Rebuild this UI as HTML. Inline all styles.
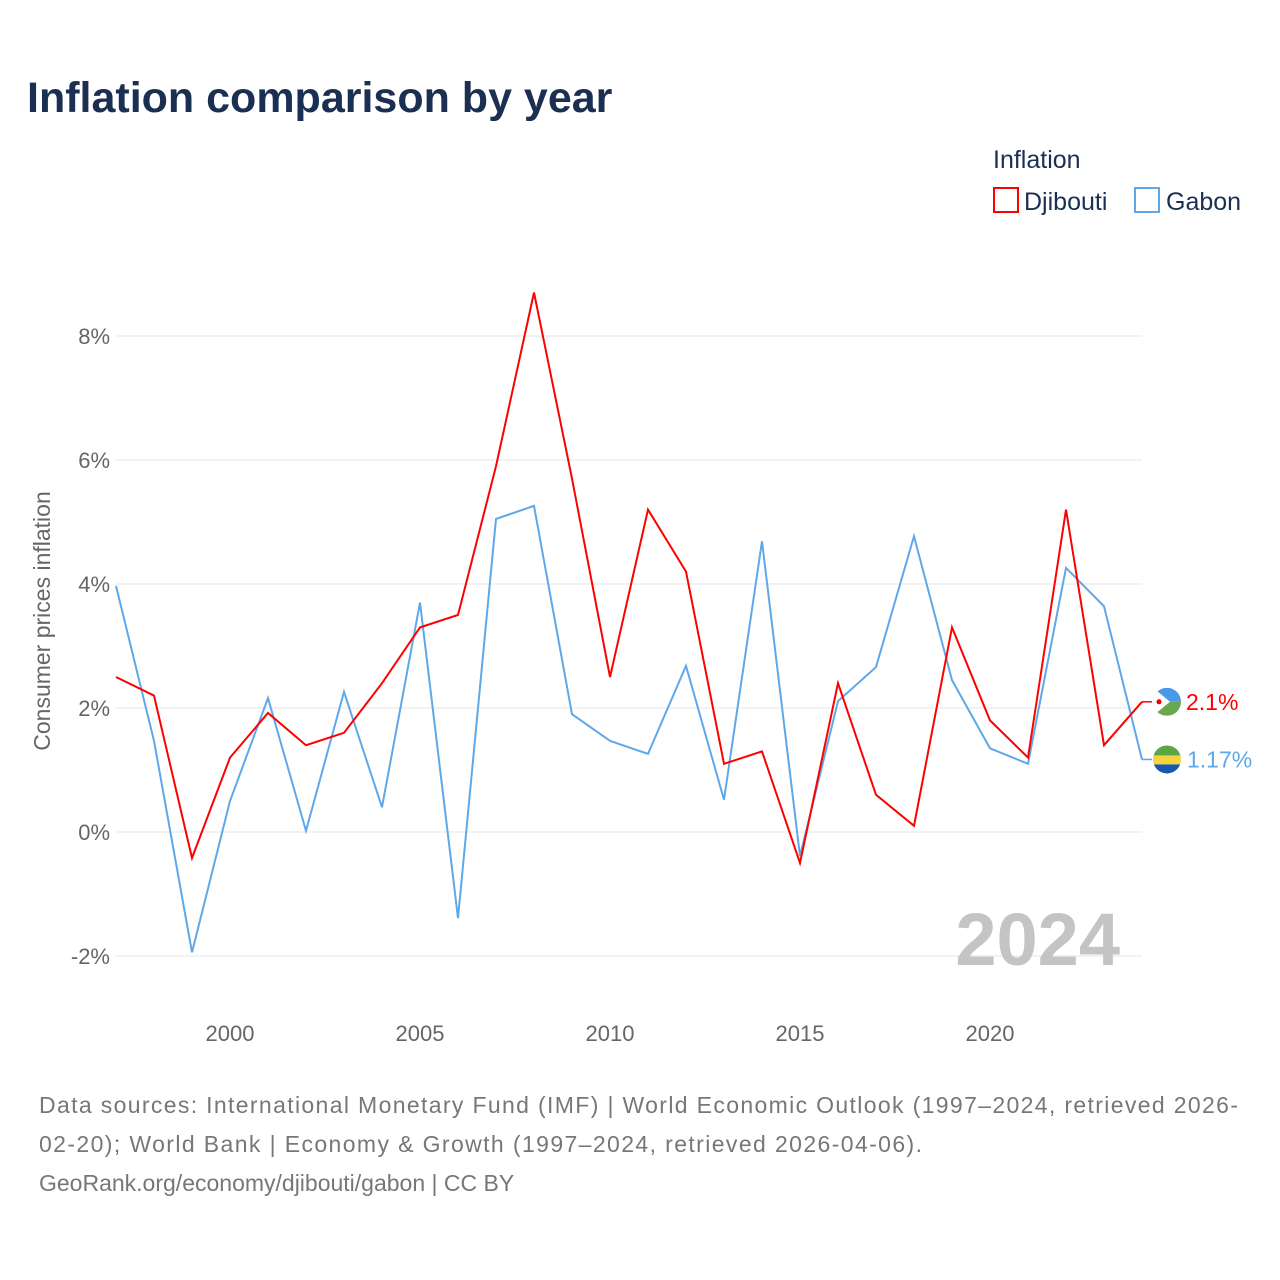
<!DOCTYPE html>
<html><head><meta charset="utf-8"><style>
body{margin:0;background:#fff;font-family:"Liberation Sans",sans-serif;}
#wrap{position:relative;width:1280px;height:1280px;overflow:hidden;}
</style></head><body>
<div id="wrap">
<svg id="chart" width="1280" height="1280"></svg>
</div>
<script>
const years=[1997,1998,1999,2000,2001,2002,2003,2004,2005,2006,2007,2008,2009,2010,2011,2012,2013,2014,2015,2016,2017,2018,2019,2020,2021,2022,2023,2024];
const djibouti=[2.5,2.2,-0.42,1.2,1.92,1.4,1.6,2.4,3.3,3.5,5.9,8.7,5.7,2.5,5.2,4.2,1.1,1.3,-0.5,2.4,0.6,0.1,3.3,1.8,1.2,5.2,1.4,2.1];
const gabon=[3.97,1.47,-1.94,0.5,2.16,0.02,2.26,0.4,3.7,-1.39,5.05,5.26,1.9,1.47,1.26,2.68,0.52,4.69,-0.39,2.11,2.66,4.77,2.45,1.35,1.1,4.26,3.64,1.17];
const yTicks=[-2,0,2,4,6,8];
const xTicks=[2000,2005,2010,2015,2020];
const NS="http://www.w3.org/2000/svg";
const svg=document.getElementById('chart');
function xs(y){return 116+(y-1997)*38;}
function ys(v){return 832-v*62;}
function mk(tag,attrs,parent){const e=document.createElementNS(NS,tag);for(const k in attrs)e.setAttribute(k,attrs[k]);(parent||svg).appendChild(e);return e;}
function txt(s,attrs){const e=mk('text',attrs);e.textContent=s;return e;}
let t;
t=txt('Inflation comparison by year',{x:27,y:112,'font-size':43,'font-weight':'bold',fill:'#1b2f52'});

t=txt('Inflation',{x:993,y:168,'font-size':25,fill:'#1b2f52'});

let r=mk('rect',{x:994,y:188,width:24,height:24,fill:'none',stroke:'#ff0000','stroke-width':2});

t=txt('Djibouti',{x:1024,y:210,'font-size':25,fill:'#1b2f52'});

r=mk('rect',{x:1135,y:188,width:24,height:24,fill:'none',stroke:'#5ea8ea','stroke-width':2});

t=txt('Gabon',{x:1166,y:210,'font-size':25,fill:'#1b2f52'});

yTicks.forEach(v=>{
 const l=mk('line',{x1:116,x2:1142,y1:ys(v),y2:ys(v),stroke:'#e6e6e6','stroke-width':1});
 
 const tt=txt(v+'%',{x:110,y:ys(v)+8,'font-size':22,fill:'#666','text-anchor':'end'});
 
});
xTicks.forEach(v=>{
 const tt=txt(String(v),{x:xs(v),y:1041,'font-size':22,fill:'#666','text-anchor':'middle'});
 
});
t=txt('Consumer prices inflation',{x:0,y:0,'font-size':23,fill:'#666','text-anchor':'middle',transform:'translate(50,621) rotate(-90)'});

t=txt('2024',{x:1120,y:965,'font-size':74,'font-weight':'bold',fill:'#c4c4c4','text-anchor':'end'});

function line(vals,color,name){
 const p=mk('polyline',{points:vals.map((v,i)=>xs(years[i])+','+ys(v)).join(' '),fill:'none',stroke:color,'stroke-width':2,'stroke-linejoin':'miter'});
 
}
line(gabon,'#5ea8ea','series-line-gabon');
line(djibouti,'#ff0000','series-line-djibouti');
const lx=xs(2024);
const dy=ys(djibouti[djibouti.length-1]), gy=ys(gabon[gabon.length-1]);
let g=mk('g',{});
mk('clipPath',{id:'c1'},g);mk('circle',{cx:lx+25,cy:dy,r:14},g.lastChild);
const g1=mk('g',{'clip-path':'url(#c1)'},g);
mk('rect',{x:lx+11,y:dy-14,width:28,height:14,fill:'#4a98e8'},g1);
mk('rect',{x:lx+11,y:dy,width:28,height:14,fill:'#6aa84f'},g1);
mk('polygon',{points:`${lx+11},${dy-14} ${lx+28},${dy} ${lx+11},${dy+14}`,fill:'#fff'},g1);
mk('circle',{cx:lx+17,cy:dy,r:2.5,fill:'#e00'},g1);
mk('line',{x1:lx,x2:lx+10,y1:dy,y2:dy,stroke:'#ff0000','stroke-width':1.5});
t=txt(djibouti[djibouti.length-1]+'%',{x:lx+44,y:dy+8,'font-size':23,fill:'#ff0000'});

g=mk('g',{});
mk('clipPath',{id:'c2'},g);mk('circle',{cx:lx+25,cy:gy,r:14},g.lastChild);
const g2=mk('g',{'clip-path':'url(#c2)'},g);
mk('rect',{x:lx+11,y:gy-14,width:28,height:10,fill:'#5aa545'},g2);
mk('rect',{x:lx+11,y:gy-4,width:28,height:9,fill:'#f5d442'},g2);
mk('rect',{x:lx+11,y:gy+5,width:28,height:10,fill:'#1558b0'},g2);
mk('line',{x1:lx,x2:lx+10,y1:gy,y2:gy,stroke:'#5ea8ea','stroke-width':1.5});
t=txt(gabon[gabon.length-1]+'%',{x:lx+45,y:gy+8,'font-size':23,fill:'#5ea8ea'});

const src=['Data sources: International Monetary Fund (IMF) | World Economic Outlook (1997–2024, retrieved 2026-','02-20); World Bank | Economy & Growth (1997–2024, retrieved 2026-04-06).','GeoRank.org/economy/djibouti/gabon | CC BY'];
const srcLen=[1199,883,0];
src.forEach((s,i)=>{const a={x:39,y:1113+i*39,'font-size':23,fill:'#777'};
 if(srcLen[i])a.textLength=srcLen[i];
 const e=txt(s,a);
 
 });
</script>
</body></html>
